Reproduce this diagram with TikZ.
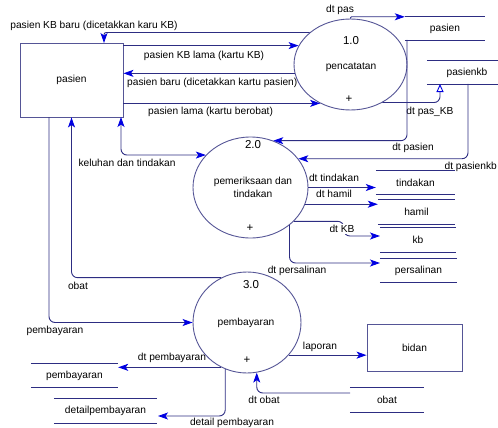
\documentclass[tikz,border=0pt]{standalone}
\usepackage{fontspec}
\setmainfont{Liberation Sans}
\usetikzlibrary{shapes.geometric,arrows.meta,calc}
\definecolor{linec}{RGB}{45,45,130}
\definecolor{arrowc}{RGB}{0,0,225}
\definecolor{shapec}{RGB}{85,85,150}
\begin{document}
\begin{tikzpicture}[x=1pt,y=-1pt,
  every node/.style={inner sep=0pt, font=\fontsize{10.2}{11}\selectfont},
  num/.style={font=\fontsize{11.5}{13}\selectfont},
  proc/.style={ellipse, draw=shapec, fill=white, line width=0.9pt, inner sep=0pt},
  ent/.style={rectangle, draw=shapec, fill=white, line width=0.9pt},
  store/.style={rectangle, inner sep=0pt},
  storeline/.style={draw=linec, line width=0.9pt},
  flow/.style={draw=linec, line width=0.9pt, rounded corners=6pt, -{Stealth[length=10pt,width=7pt,inset=2.5pt,color=arrowc]}},
  flowtwo/.style={draw=linec, line width=0.9pt, rounded corners=6pt, {Stealth[length=10pt,width=7pt,inset=2.5pt,color=arrowc]}-{Stealth[length=10pt,width=7pt,inset=2.5pt,color=arrowc]}},
  flowopen/.style={draw=linec, line width=0.9pt, rounded corners=6pt, -{Triangle[open,length=8pt,width=7pt,color=arrowc]}}
]
\useasboundingbox (0,0) rectangle (498,428);

% labels on connectors
\node (lKBbaru) at (94,26) {pasien KB baru (dicetakkan karu KB)};
\node (lKBlama) at (204,56) {pasien KB lama (kartu KB)};
\node[anchor=west] (lbaru) at (127,83) {pasien baru (dicetakkan kartu pasien)};
\node[anchor=west] (llama) at (148,112) {pasien lama (kartu berobat)};
\node (ldtpas) at (340,10) {dt pas};
\node (ldtpaskb) at (430,112) {dt pas\_KB};
\node (ldtpasien) at (413,148) {dt pasien};
\node[anchor=east] (ldtpasienkb) at (497,167) {dt pasienkb};
\node (lkeluhan) at (127,163) {keluhan dan tindakan};
\node (ldttin) at (334,178) {dt tindakan};
\node (ldtham) at (334,194) {dt hamil};
\node (ldtper) at (297,271) {dt persalinan};
\node (lobat) at (78,286) {obat};
\node (lpemb) at (55,331) {pembayaran};
\node (ldtpemb) at (172,358) {dt pembayaran};
\node (llap) at (320,347) {laporan};
\node (ldtobat) at (264,400) {dt obat};
\node (ldetail) at (232,423) {detail pembayaran};

% entities
\node[ent, minimum width=103pt, minimum height=74pt] (pas) at (71.5,80) {pasien};
\node[ent, minimum width=95pt, minimum height=47pt] (bidan) at (414.5,347.5) {bidan};

% processes
\node[proc, minimum width=113pt, minimum height=91pt] (c1) at (350.5,64.5) {};
\node[proc, minimum width=115pt, minimum height=101pt] (c2) at (250.5,187.5) {};
\node[proc, minimum width=108pt, minimum height=101pt] (c3) at (247,322.5) {};
\node[num] (c1n) at (351,41) {1.0};
\node (c1t) at (351,67) {pencatatan};
\node[num] (c1p) at (349,99) {+};
\node[num] (c2n) at (253,145) {2.0};
\node (c2ta) at (253,182) {pemeriksaan dan};
\node (c2tb) at (253,194) {tindakan};
\node[num] (c2p) at (250,228) {+};
\node[num] (c3n) at (251,285) {3.0};
\node (c3t) at (246,323) {pembayaran};
\node[num] (c3p) at (247,360) {+};

% data stores
\node[store, minimum width=80pt, minimum height=23pt] (sPas) at (445,28.5) {pasien};
\node[store, minimum width=80pt, minimum height=23pt] (sKB) at (467,72.5) {pasienkb};
\node[store, minimum width=79pt, minimum height=23pt] (sTin) at (415.5,182.5) {tindakan};
\node[store, minimum width=77pt, minimum height=24pt] (sHam) at (416.5,212) {hamil};
\node[store, minimum width=76pt, minimum height=24pt] (sKb) at (418,240) {kb};
\node[store, minimum width=77pt, minimum height=23pt] (sPer) at (418.5,270.5) {persalinan};
\node[store, minimum width=87pt, minimum height=23pt] (sPem) at (74.5,375.5) {pembayaran};
\node[store, minimum width=103pt, minimum height=24pt] (sDet) at (105.5,411) {detailpembayaran};
\node[store, minimum width=74pt, minimum height=24pt] (sObat) at (387,400) {obat};
\foreach \s in {sPas,sKB,sTin,sHam,sKb,sPer,sPem,sDet,sObat}
  \draw[storeline] (\s.north west) -- (\s.north east) (\s.south west) -- (\s.south east);

% helper coordinates
\coordinate (kbin) at (440,84);
\coordinate (pasout) at (407,40);
\coordinate (kbout) at (468,84);
\coordinate (kbarr) at (380,236);
\coordinate (perin) at (380,263);
\coordinate (detin) at (158,416);
\coordinate (obout) at (350,393);
\coordinate (pbtop) at (104,43);
\coordinate (pasK) at (121,117);
\coordinate (pasP) at (49,117);

% connectors
\draw[flow, rounded corners=1pt] (c1.north) |- (sPas.north west);
\draw[flowopen] (c1.310) -| (kbin);
\draw[flow] (pasout) |- (c2.64);
\draw[flow] (kbout) |- (c2.31);
\draw[flow] (c2.east) -- (c2.east -| sTin.west);
\draw[flow] (c2.343) -- (c2.343 -| sHam.west);
\draw[flow] (c2.322) -- ++(50,0) |- (kbarr);
\draw[flow] (c2.316) |- (perin);
\draw[flow, rounded corners=2pt] (c1.142) -| (pbtop);
\draw[flow] (pas.east |- c1.160) -- (c1.160);
\draw[flow] (c1.189) -- (pas.east |- c1.189);
\draw[flow] (pas.east |- c1.232) -- (c1.232);
\draw[flowtwo] (pasK) |- (c2.144);
\draw[flow] (c3.120) -| (pas.south);
\draw[flow] (pasP) |- (c3.west);
\draw[flow] (c3.240) -- (c3.240 -| sPem.east);
\draw[flow] (c3.245) |- (detin);
\draw[flow] (obout) -| (c3.281);
\draw[flow] (c3.322) -- (c3.322 -| bidan.west);

\node[fill=white, inner sep=1pt] (ldtkb) at (342,229) {dt KB};
\end{tikzpicture}
\end{document}
